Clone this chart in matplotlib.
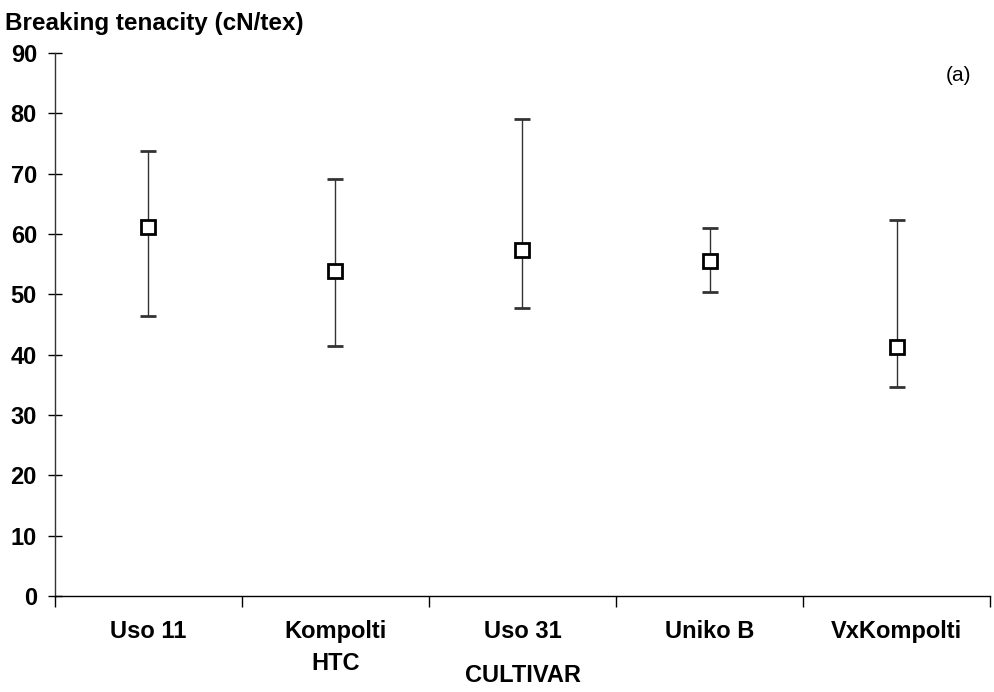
import matplotlib.pyplot as plt
import numpy as np

plt.rcParams['font.family'] = ['Liberation Sans', 'DejaVu Sans']

# Data
cultivars = ['Uso 11', 'Kompolti\nHTC', 'Uso 31', 'Uniko B', 'VxKompolti']
mean = [61.2, 53.9, 57.4, 55.5, 41.3]
low = [46.4, 41.4, 47.7, 50.4, 34.6]
high = [73.8, 69.1, 79.1, 61.0, 62.3]

mean = np.array(mean)
yerr = [mean - np.array(low), np.array(high) - mean]
x = np.arange(len(cultivars))

fig = plt.figure(figsize=(9.94, 6.92), dpi=100)
ax = fig.add_axes([0.0553, 0.1387, 0.9407, 0.7847])

_, caps, _ = ax.errorbar(x, mean, yerr=yerr, fmt='s', color='black', ecolor='#333333',
                         elinewidth=1.0, capsize=6, capthick=4,
                         markersize=10, markerfacecolor='white', markeredgecolor='black',
                         markeredgewidth=2, zorder=3)
for c in caps:
    c.set_color('black')

ax.set_xlim(-0.5, len(cultivars) - 0.5)
ax.set_ylim(0, 90)
ax.set_yticks(range(0, 91, 10))
ax.set_xticks(x)
ax.set_xticklabels(cultivars, fontsize=17, fontweight='bold', linespacing=1.5)
ax.set_xticks(np.arange(-0.5, len(cultivars)), minor=True)
for lab in ax.get_yticklabels():
    lab.set_fontsize(17)
    lab.set_fontweight('bold')

ax.tick_params(axis='x', which='major', length=0, pad=17)
ax.tick_params(axis='x', which='minor', direction='out', length=8, width=1)
ax.tick_params(axis='y', direction='inout', length=10, width=1, pad=8)

for s in ['top', 'right']:
    ax.spines[s].set_visible(False)
ax.spines['left'].set_linewidth(1.0)
ax.spines['bottom'].set_linewidth(1.0)
ax.spines['left'].set_color('#333333')

ax.set_xlabel('CULTIVAR', fontsize=17, fontweight='bold', va='center')
ax.xaxis.set_label_coords(0.5, -0.147)
fig.text(0.005, 0.966, 'Breaking tenacity (cN/tex)', fontsize=17.5,
         fontweight='bold', ha='left', va='center')
ax.text(0.966, 0.959, '(a)', transform=ax.transAxes, fontsize=15,
        ha='center', va='center')

plt.savefig('out.png', dpi=100)
